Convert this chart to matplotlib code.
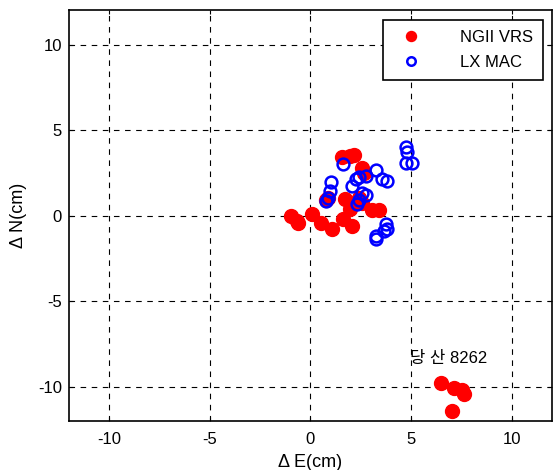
import matplotlib
matplotlib.use('Agg')
from matplotlib import pyplot as plt

plt.rcParams['font.family'] = ['Liberation Sans', 'Noto Sans CJK KR', 'DejaVu Sans']
plt.rcParams['axes.unicode_minus'] = False

# NGII VRS (dE, dN) in cm
vrs_e = [-0.95, -0.65, -0.6, 0.1, 0.55, 1.1, 1.75, 2.0, 2.15, 2.55, 2.65, 0.9, 0.8,
         1.65, 2.05, 2.0, 2.15, 3.05, 3.4, 2.4, 2.55, 1.6,
         6.5, 7.15, 7.55, 7.65, 7.05]
vrs_n = [0.0, -0.3, -0.4, 0.1, -0.45, -0.8, 1.0, 3.5, 3.55, 2.8, 2.5, 1.05, 0.9,
         -0.2, -0.6, 0.4, 0.75, 0.35, 0.35, 1.05, 0.75, 3.45,
         -9.75, -10.05, -10.2, -10.4, -11.4]

# LX MAC
mac_e = [4.75, 4.8, 4.75, 5.05, 1.65, 1.05, 1.0, 0.9, 0.8, 2.05, 2.25, 2.4, 2.75,
         3.25, 3.55, 3.8, 2.55, 2.75, 2.4, 2.3, 3.75, 3.8, 3.65, 3.25, 3.25]
mac_n = [4.0, 3.7, 3.1, 3.1, 3.0, 1.95, 1.45, 1.05, 0.85, 1.75, 2.15, 2.25, 2.35,
         2.65, 2.15, 2.0, 1.3, 1.2, 0.9, 0.7, -0.5, -0.75, -0.9, -1.2, -1.35]

ticks = [-10, -5, 0, 5, 10]

fig = plt.figure(figsize=(5.54, 4.70), dpi=100)
ax = fig.add_axes([0.124, 0.104, 0.872, 0.874])

ax.plot(vrs_e, vrs_n, 'o', color='red', markersize=10, markeredgecolor='red',
        label='NGII VRS', zorder=3)
ax.plot(mac_e, mac_n, 'o', markerfacecolor='none', markeredgecolor='blue',
        markersize=8.5, markeredgewidth=1.8, label='LX MAC', zorder=4)

ax.text(4.95, -8.35, '당 산 8262', fontsize=12, va='center', ha='left')

ax.set_xlim(-12, 12)
ax.set_ylim(-12, 12)
ax.set_xticks(ticks)
ax.set_yticks(ticks)
ax.grid(True, color='black', linestyle=(0, (5, 5)), linewidth=0.8)
ax.tick_params(direction='in', length=3, labelsize=12, top=True, right=True)
ax.tick_params(axis='x', pad=8)
ax.tick_params(axis='y', pad=5)
for s in ax.spines.values():
    s.set_linewidth(1.2)

ax.set_xlabel('Δ E(cm)', fontsize=13, labelpad=5)
ax.set_ylabel('Δ N(cm)', fontsize=13, labelpad=8)

leg = ax.legend(loc='upper right', fontsize=12, fancybox=False, framealpha=1,
                edgecolor='black', borderpad=0.6, handletextpad=1.8,
                handlelength=2.2, labelspacing=0.6, borderaxespad=0.55,
                markerscale=0.72)
leg.get_frame().set_linewidth(1.2)

fig.savefig('out.png', dpi=100)
